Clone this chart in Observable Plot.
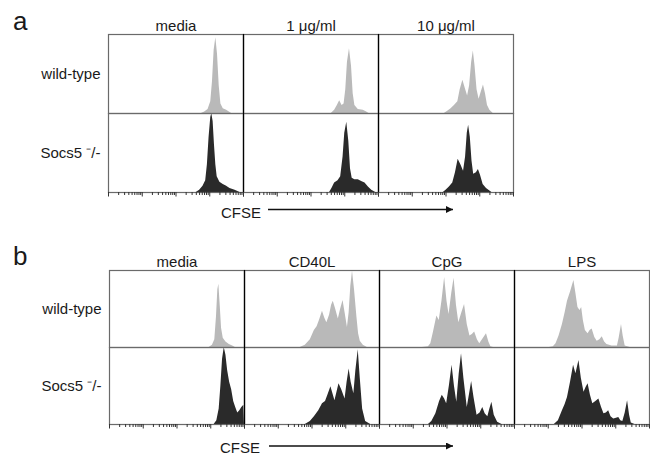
<!DOCTYPE html>
<html><head><meta charset="utf-8">
<script src="https://cdn.jsdelivr.net/npm/d3@7"></script>
<script src="https://cdn.jsdelivr.net/npm/@observablehq/plot@0.6"></script>
<style>
html,body{margin:0;padding:0;background:#fff;}
#fig{position:relative;width:650px;height:455px;overflow:hidden;font-family:"Liberation Sans",Arial,sans-serif;color:#1a1a1a;}
.panel{position:absolute;left:0;}
.letter{position:absolute;font-size:26px;line-height:1;}
.cfse{position:absolute;font-size:15px;line-height:1;}
svg.arrow{position:absolute;left:0;overflow:visible;}
</style></head><body>
<div id="fig">
  <div id="pa" class="panel" style="top:0"></div>
  <div id="pb" class="panel" style="top:236px"></div>
  <div class="letter" style="left:13px;top:8px">a</div>
  <div class="letter" style="left:13px;top:243px">b</div>
  <div class="cfse" style="left:221px;top:205px">CFSE</div>
  <div class="cfse" style="left:220px;top:440px">CFSE</div>
  <svg class="arrow" width="650" height="455" style="top:0;pointer-events:none">
    <defs><marker id="ah" viewBox="0 0 10 10" refX="10" refY="5" markerWidth="9" markerHeight="7" markerUnits="userSpaceOnUse" orient="auto"><path d="M0,0L10,5L0,10z" fill="#111"/></marker></defs>
    <line x1="268" y1="209.5" x2="453" y2="209.5" stroke="#111" stroke-width="1.5" marker-end="url(#ah)"/>
    <line x1="269" y1="446" x2="453" y2="446" stroke="#111" stroke-width="1.5" marker-end="url(#ah)"/>
  </svg>
</div>
<script>
// ---- categories ----
const genotypes = ["wild-type", "Socs5 \u207B/-"];
const condA = ["media", "1 \u03BCg/ml", "10 \u03BCg/ml"];
const condB = ["media", "CD40L", "CpG", "LPS"];

// ---- CFSE histograms: [log10 CFSE (decades), relative count] ----
// panel a
const aMediaWT = [[2.75,0],[2.85,0.02],[2.95,0.05],[3.03,0.15],[3.08,0.4],[3.13,0.8],[3.18,0.96],[3.23,0.75],[3.28,0.35],[3.33,0.12],[3.4,0.06],[3.5,0.04],[3.58,0.02],[3.65,0]];
const aMediaKO = [[2.6,0],[2.7,0.03],[2.8,0.08],[2.88,0.15],[2.93,0.35],[2.98,0.7],[3.03,0.95],[3.06,1.0],[3.1,0.9],[3.14,0.6],[3.18,0.35],[3.22,0.2],[3.3,0.13],[3.4,0.1],[3.5,0.08],[3.6,0.05],[3.75,0.03],[3.9,0]];
const a1WT = [[2.6,0],[2.7,0.04],[2.78,0.1],[2.85,0.16],[2.92,0.1],[2.98,0.12],[3.03,0.3],[3.08,0.65],[3.14,0.82],[3.2,0.6],[3.25,0.25],[3.3,0.1],[3.4,0.05],[3.55,0.04],[3.65,0.02],[3.72,0]];
const a1KO = [[2.55,0],[2.62,0.05],[2.7,0.12],[2.8,0.15],[2.88,0.2],[2.95,0.45],[3.0,0.75],[3.06,0.89],[3.12,0.65],[3.17,0.3],[3.22,0.18],[3.3,0.16],[3.4,0.16],[3.5,0.14],[3.6,0.12],[3.7,0.07],[3.8,0.03],[3.92,0]];
const a10WT = [[1.95,0],[2.05,0.03],[2.15,0.06],[2.25,0.1],[2.35,0.15],[2.42,0.3],[2.5,0.42],[2.57,0.32],[2.64,0.22],[2.7,0.35],[2.76,0.65],[2.81,0.79],[2.86,0.6],[2.92,0.3],[2.98,0.18],[3.05,0.28],[3.11,0.36],[3.17,0.25],[3.23,0.1],[3.3,0.04],[3.4,0]];
const a10KO = [[1.92,0],[2.0,0.03],[2.1,0.07],[2.2,0.12],[2.28,0.25],[2.36,0.42],[2.44,0.35],[2.52,0.27],[2.58,0.45],[2.63,0.75],[2.67,0.85],[2.72,0.7],[2.77,0.4],[2.82,0.23],[2.9,0.25],[2.96,0.29],[3.02,0.22],[3.1,0.1],[3.2,0.05],[3.3,0.02],[3.36,0]];
// panel b
const bMediaWT = [[2.95,0],[3.05,0.03],[3.12,0.1],[3.17,0.4],[3.21,0.75],[3.24,0.82],[3.28,0.55],[3.32,0.25],[3.37,0.12],[3.45,0.07],[3.55,0.04],[3.65,0.02],[3.73,0]];
const bMediaKO = [[3.1,0],[3.18,0.05],[3.25,0.2],[3.3,0.5],[3.35,0.85],[3.4,1.0],[3.45,0.9],[3.5,0.7],[3.56,0.55],[3.62,0.45],[3.68,0.3],[3.74,0.22],[3.8,0.15],[3.86,0.18],[3.92,0.22],[3.98,0.25],[4.0,0]];
const bCD40WT = [[1.65,0],[1.8,0.03],[1.95,0.1],[2.07,0.22],[2.15,0.27],[2.22,0.35],[2.31,0.47],[2.38,0.38],[2.44,0.32],[2.52,0.42],[2.58,0.55],[2.63,0.6],[2.7,0.5],[2.78,0.37],[2.85,0.5],[2.92,0.61],[2.98,0.45],[3.05,0.26],[3.1,0.45],[3.15,0.8],[3.2,0.99],[3.26,0.75],[3.33,0.4],[3.38,0.18],[3.43,0.08],[3.52,0.03],[3.64,0]];
const bCD40KO = [[1.8,0],[1.95,0.04],[2.07,0.1],[2.2,0.18],[2.31,0.27],[2.4,0.3],[2.47,0.38],[2.56,0.49],[2.62,0.4],[2.68,0.31],[2.74,0.42],[2.8,0.53],[2.88,0.45],[2.98,0.33],[3.04,0.55],[3.1,0.72],[3.16,0.55],[3.24,0.4],[3.3,0.7],[3.37,0.97],[3.43,0.6],[3.5,0.2],[3.59,0.04],[3.74,0]];
const bCpGWT = [[1.27,0],[1.45,0.01],[1.52,0.05],[1.6,0.2],[1.7,0.41],[1.77,0.35],[1.85,0.6],[1.93,0.91],[2.0,0.6],[2.06,0.43],[2.14,0.7],[2.21,0.9],[2.28,0.55],[2.35,0.32],[2.44,0.45],[2.52,0.56],[2.6,0.3],[2.68,0.15],[2.75,0.17],[2.82,0.2],[2.9,0.1],[2.97,0.05],[3.08,0.12],[3.17,0.18],[3.24,0.07],[3.3,0.01],[3.38,0]];
const bCpGKO = [[1.45,0],[1.55,0.04],[1.67,0.14],[1.78,0.3],[1.86,0.38],[1.93,0.33],[1.99,0.27],[2.07,0.5],[2.15,0.77],[2.22,0.5],[2.29,0.29],[2.36,0.65],[2.43,0.92],[2.5,0.6],[2.6,0.22],[2.67,0.4],[2.73,0.56],[2.8,0.35],[2.89,0.12],[2.98,0.15],[3.06,0.22],[3.13,0.14],[3.21,0.1],[3.27,0.2],[3.33,0.29],[3.4,0.12],[3.5,0.03],[3.63,0]];
const bLPSWT = [[1.03,0],[1.15,0.01],[1.23,0.05],[1.32,0.15],[1.42,0.3],[1.5,0.45],[1.57,0.6],[1.66,0.72],[1.76,0.87],[1.82,0.7],[1.88,0.52],[1.94,0.48],[1.99,0.52],[2.04,0.35],[2.1,0.22],[2.18,0.18],[2.24,0.22],[2.3,0.24],[2.38,0.13],[2.45,0.08],[2.53,0.1],[2.6,0.14],[2.67,0.07],[2.74,0.04],[2.89,0.02],[3.05,0.02],[3.1,0.12],[3.17,0.3],[3.22,0.15],[3.28,0.02],[3.43,0]];
const bLPSKO = [[1.18,0],[1.3,0.05],[1.42,0.18],[1.5,0.26],[1.57,0.35],[1.66,0.55],[1.75,0.77],[1.82,0.66],[1.91,0.83],[1.98,0.6],[2.06,0.42],[2.12,0.48],[2.18,0.53],[2.25,0.38],[2.32,0.27],[2.41,0.3],[2.5,0.33],[2.58,0.22],[2.65,0.14],[2.72,0.15],[2.79,0.18],[2.86,0.1],[2.94,0.07],[3.02,0.08],[3.09,0.09],[3.15,0.05],[3.21,0.04],[3.28,0.15],[3.35,0.31],[3.41,0.12],[3.46,0.02],[3.57,0]];

// ---- axis ticks (log CFSE, 4 decades) ----
const xDomain = [1, 10000];
const majorTicks = [1, 10, 100, 1000, 10000];
const minorTicks = [2,3,4,5,6,7,8,9,20,30,40,50,60,70,80,90,200,300,400,500,600,700,800,900,2000,3000,4000,5000,6000,7000,8000,9000];

// ---- colours ----
const fills = ["#b9b9b9", "#2a2a2a"];

function table(list) {
  const rows = [];
  for (const [cond, geno, pts] of list) for (const [c, v] of pts) rows.push({cond, geno, c, v});
  return rows;
}
const dataA = table([
  [condA[0], genotypes[0], aMediaWT], [condA[0], genotypes[1], aMediaKO],
  [condA[1], genotypes[0], a1WT], [condA[1], genotypes[1], a1KO],
  [condA[2], genotypes[0], a10WT], [condA[2], genotypes[1], a10KO]
]);
const dataB = table([
  [condB[0], genotypes[0], bMediaWT], [condB[0], genotypes[1], bMediaKO],
  [condB[1], genotypes[0], bCD40WT], [condB[1], genotypes[1], bCD40KO],
  [condB[2], genotypes[0], bCpGWT], [condB[2], genotypes[1], bCpGKO],
  [condB[3], genotypes[0], bLPSWT], [condB[3], genotypes[1], bLPSKO]
]);

function panel(data, conds, height, marginRight) {
  const dividers = [];
  for (const cond of conds.slice(1)) for (const geno of genotypes) dividers.push({cond, geno});
  return Plot.plot({
    width: 650, height,
    marginLeft: 107, marginRight, marginTop: 33, marginBottom: 8,
    style: {fontSize: "15px", fontFamily: "'Liberation Sans', Arial, sans-serif", color: "#1a1a1a", background: "transparent", overflow: "visible"},
    x: {type: "log", domain: xDomain},
    y: {domain: [0, 1], axis: null},
    fx: {domain: conds, axis: "top", label: null, padding: 0, tickPadding: 4, tickSize: 0},
    fy: {domain: genotypes, axis: "left", label: null, padding: 0, tickPadding: 8, tickSize: 0},
    color: {type: "ordinal", domain: genotypes, range: fills},
    marks: [
      Plot.areaY(data, {x: d => 10 ** d.c, y: "v", fx: "cond", fy: "geno", fill: "geno", curve: "linear", clip: true}),
      Plot.frame({stroke: "#6a6a6a", strokeWidth: 1.2}),
      Plot.ruleX(dividers, {x: () => xDomain[0], fx: "cond", fy: "geno", stroke: "#000", strokeWidth: 1.2}),
      Plot.axisX(minorTicks, {tickSize: 3, tickFormat: () => "", label: null, stroke: "#333"}),
      Plot.axisX(majorTicks, {tickSize: 4.5, tickFormat: () => "", label: null, stroke: "#333"})
    ]
  });
}

document.getElementById("pa").append(panel(dataA, condA, 200, 650 - 107 - 3 * 135.75));
document.getElementById("pb").append(panel(dataB, condB, 196, 0));
</script>
</body></html>
